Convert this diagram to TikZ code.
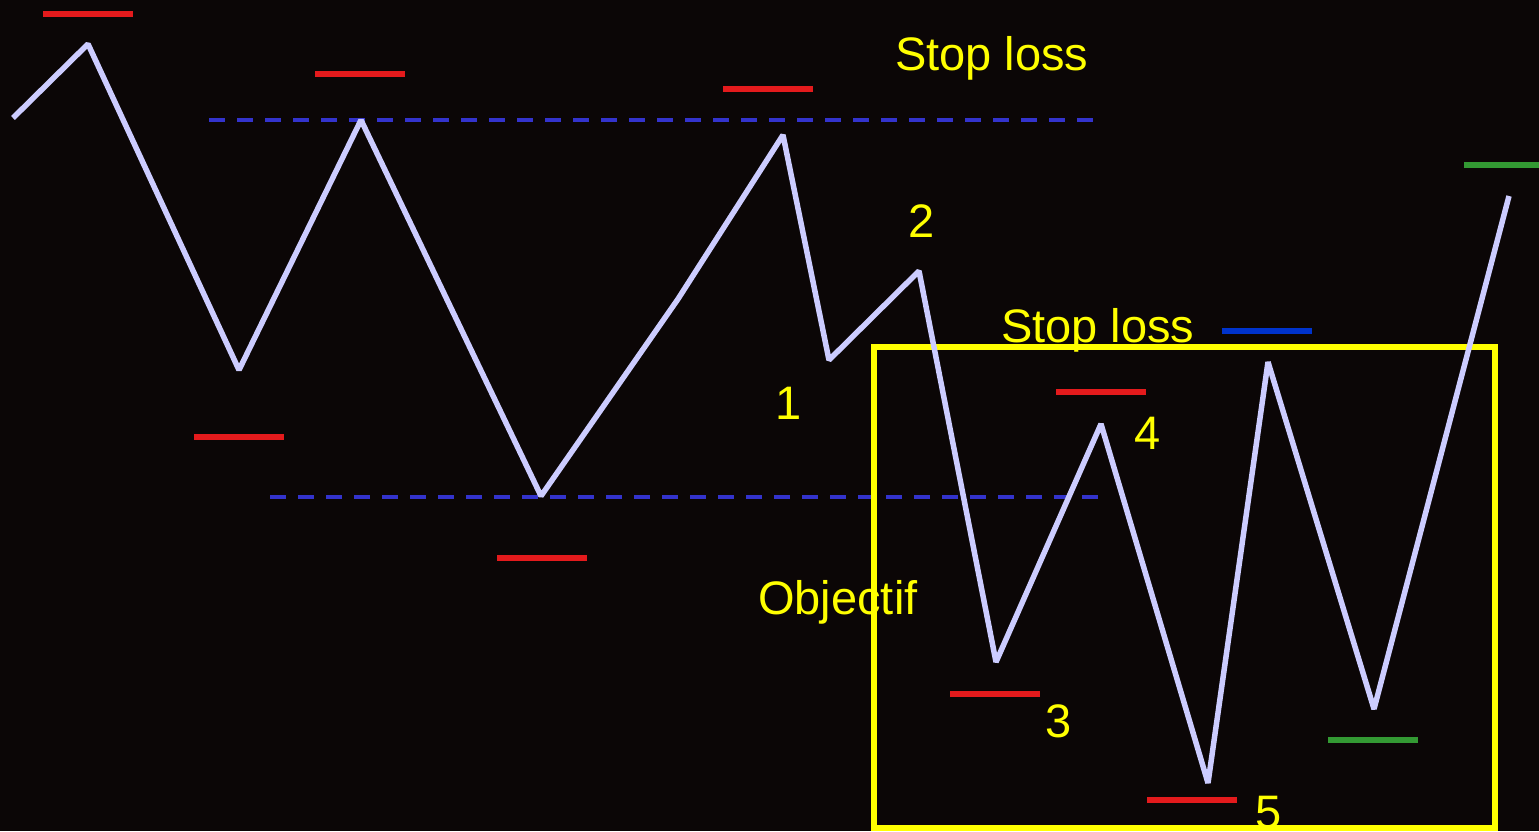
\documentclass[tikz,border=0pt]{standalone}
\usepackage{fontspec}
\setmainfont{Liberation Sans}
\definecolor{bg}{RGB}{11,6,6}
\definecolor{price}{RGB}{204,204,255}
\definecolor{slred}{RGB}{228,26,28}
\definecolor{slblue}{RGB}{0,51,204}
\definecolor{tpgreen}{RGB}{51,153,51}
\definecolor{lvl}{RGB}{51,51,204}
\definecolor{ylw}{RGB}{255,255,0}
\tikzset{
  pricepath/.style={draw=price, line width=5.5pt, line join=bevel},
  stopmark/.style={draw=slred, line width=6pt},
  bluemark/.style={draw=slblue, line width=6pt},
  greenmark/.style={draw=tpgreen, line width=6pt},
  levelline/.style={draw=lvl, line width=4pt, dash pattern=on 16pt off 12pt},
  zone/.style={draw=ylw, line width=6pt},
  lbl/.style={text=ylw, inner sep=0pt, font=\fontsize{47}{56}\selectfont}
}
\begin{document}
\begin{tikzpicture}[x=1pt,y=-1pt]
\fill[bg] (0,0) rectangle (1539,831);
\useasboundingbox (0,0) rectangle (1539,831);
% price path points
\coordinate (p1) at (13,118);
\coordinate (p2) at (88,44);
\coordinate (p3) at (239,370);
\coordinate (p4) at (361,120);
\coordinate (p5) at (541,496);
\coordinate (p6) at (678,299);
\coordinate (p7) at (783,135);
\coordinate (p8) at (829,360);
\coordinate (p9) at (919,271);
\coordinate (p10) at (996,662);
\coordinate (p11) at (1101,424);
\coordinate (p12) at (1208,783);
\coordinate (p13) at (1268,362);
\coordinate (p14) at (1374,709);
\coordinate (p15) at (1509,196);
% level lines
\coordinate (l1a) at (209,120); \coordinate (l1b) at (1095,120);
\coordinate (l2a) at (270,497); \coordinate (l2b) at (1098,497);
\draw[levelline] (l1a) -- (l1b);
\draw[levelline] (l2a) -- (l2b);
% zone
\coordinate (z1) at (874,347); \coordinate (z2) at (1495,828);
\draw[zone] (z1) rectangle (z2);
% price
\draw[pricepath] (p1) -- (p2) -- (p3) -- (p4) -- (p5) -- (p6) -- (p7) -- (p8) -- (p9) -- (p10) -- (p11) -- (p12) -- (p13) -- (p14) -- (p15);
% stop marks
\coordinate (s1a) at (43,14);   \coordinate (s1b) at (133,14);
\coordinate (s2a) at (315,74);  \coordinate (s2b) at (405,74);
\coordinate (s3a) at (723,89);  \coordinate (s3b) at (813,89);
\coordinate (s4a) at (194,437); \coordinate (s4b) at (284,437);
\coordinate (s5a) at (497,558); \coordinate (s5b) at (587,558);
\coordinate (s6a) at (1056,392);\coordinate (s6b) at (1146,392);
\coordinate (s7a) at (950,694); \coordinate (s7b) at (1040,694);
\coordinate (s8a) at (1147,800);\coordinate (s8b) at (1237,800);
\draw[stopmark] (s1a) -- (s1b);
\draw[stopmark] (s2a) -- (s2b);
\draw[stopmark] (s3a) -- (s3b);
\draw[stopmark] (s4a) -- (s4b);
\draw[stopmark] (s5a) -- (s5b);
\draw[stopmark] (s6a) -- (s6b);
\draw[stopmark] (s7a) -- (s7b);
\draw[stopmark] (s8a) -- (s8b);
\coordinate (b1a) at (1222,331); \coordinate (b1b) at (1312,331);
\draw[bluemark] (b1a) -- (b1b);
\coordinate (g1a) at (1464,165); \coordinate (g1b) at (1539,165);
\coordinate (g2a) at (1328,740); \coordinate (g2b) at (1418,740);
\draw[greenmark] (g1a) -- (g1b);
\draw[greenmark] (g2a) -- (g2b);
% labels
\node[lbl, anchor=base west] (t1) at (895,70) {Stop loss};
\node[lbl, anchor=base west] (t2) at (1001,342) {Stop loss};
\node[lbl, anchor=base west] (t3) at (758,614) {Objectif};
\node[lbl, anchor=base] (n1) at (789,419) {1};
\node[lbl, anchor=base] (n2) at (922,237) {2};
\node[lbl, anchor=base] (n3) at (1059,737) {3};
\node[lbl, anchor=base] (n4) at (1148,449) {4};
\node[lbl, anchor=base] (n5) at (1269,828) {5};
\end{tikzpicture}
\end{document}
